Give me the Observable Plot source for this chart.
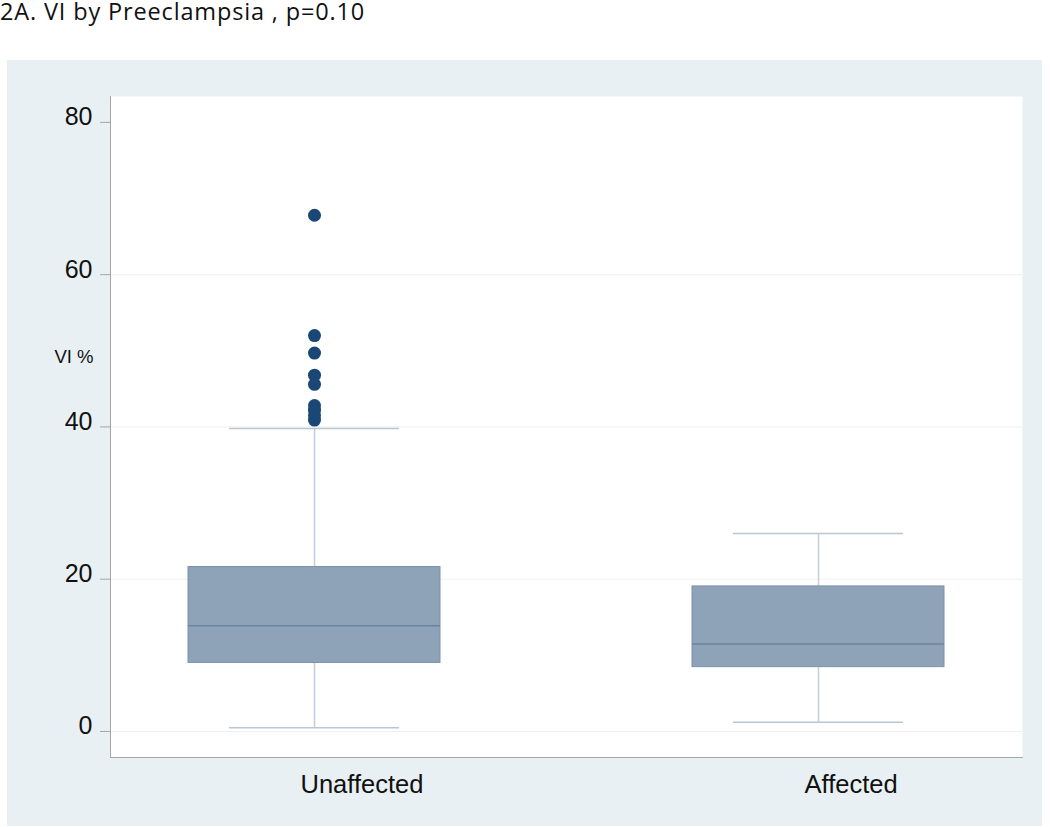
<!DOCTYPE html>
<html>
<head>
<meta charset="utf-8">
<script src="https://cdn.jsdelivr.net/npm/d3@7"></script>
<script src="https://cdn.jsdelivr.net/npm/@observablehq/plot@0.6"></script>
<style>
  html, body { margin: 0; padding: 0; background: #ffffff; }
  body { width: 1050px; height: 827px; position: relative; overflow: hidden; }
  #title { position: absolute; left: 0px; top: 1px; font-family: "Open Sans", Lato, sans-serif; font-size: 23.5px; letter-spacing: 0.85px; line-height: 20px; height: 28px; color: #111; white-space: nowrap; }
  #panel { position: absolute; left: 7px; top: 60px; width: 1035px; height: 766px; background: #e8f0f3; }
  #panel svg { display: block; }
</style>
</head>
<body>
<div id="title">2A. VI by Preeclampsia , p=0.10</div>
<div id="panel"></div>
<script>
// ---- data ----
const categories = ["Unaffected", "Affected"];
const whiskerLow = [0.5, 1.2];
const q1 = [9.0, 8.45];
const median = [13.9, 11.5];
const q3 = [21.6, 19.05];
const whiskerHigh = [39.8, 26.0];
const outlierGroup = ["Unaffected","Unaffected","Unaffected","Unaffected","Unaffected","Unaffected","Unaffected","Unaffected","Unaffected"];
const outlierValues = [67.8, 52.0, 49.7, 46.8, 45.6, 42.8, 42.2, 41.5, 40.9];
const yTicks = [0, 20, 40, 60, 80];
const gridTicks = [0, 20, 40, 60];
const yLabel = "VI %";

const boxes = categories.map((c, i) => ({
  group: c, lo: whiskerLow[i], q1: q1[i], med: median[i], q3: q3[i], hi: whiskerHigh[i]
}));
const outliers = outlierValues.map((v, i) => ({group: outlierGroup[i], value: v}));

const font = '"Liberation Sans", Arial, sans-serif';

const chart = Plot.plot({
  width: 1035,
  height: 766,
  marginLeft: 103,
  marginRight: 20,
  marginTop: 36,
  marginBottom: 69,
  style: {fontFamily: font, fontSize: "25px", color: "#111", background: "transparent"},
  x: {domain: categories, type: "band", paddingInner: 0.5, paddingOuter: 0.154, label: null},
  y: {domain: [-3.42, 83.4], label: null},
  marks: [
    Plot.frame({fill: "white", stroke: "none"}),
    Plot.ruleY(gridTicks, {stroke: "#f0f0f0", strokeWidth: 1}),
    Plot.frame({anchor: "left", stroke: "#a6a6a6"}),
    Plot.frame({anchor: "bottom", stroke: "#a6a6a6"}),
    Plot.axisY(yTicks, {tickSize: 10, tickFormat: () => "", stroke: "#a6a6a6", label: null}),
    Plot.axisY(yTicks, {tickSize: 0, tickPadding: 18, fill: "#111", label: null, fontSize: 25, dy: -5}),
    Plot.axisX({tickSize: 0, tickPadding: 17, label: null, fontSize: 25.5, fill: "#111", textAnchor: "start", dx: -14}),
    Plot.ruleX(boxes, {x: "group", y1: "lo", y2: "hi", stroke: "#c3cfdc", strokeWidth: 1.5}),
    Plot.tickY(boxes, {x: "group", y: "lo", stroke: "#b9c6d4", strokeWidth: 1.5, insetLeft: 41, insetRight: 41}),
    Plot.tickY(boxes, {x: "group", y: "hi", stroke: "#b9c6d4", strokeWidth: 1.5, insetLeft: 41, insetRight: 41}),
    Plot.barY(boxes, {x: "group", y1: "q1", y2: "q3", fill: "#8ea3b8", stroke: "#7c92aa", strokeWidth: 1}),
    Plot.tickY(boxes, {x: "group", y: "med", stroke: "#6c849e", strokeWidth: 1.5}),
    Plot.dot(outliers, {x: "group", y: "value", r: 6.5, fill: "#1a4775", stroke: "none"}),
    Plot.text([yLabel], {frameAnchor: "left", text: d => d, textAnchor: "end", dx: -17, dy: -70, fontSize: 18.5, fill: "#111"})
  ]
});
document.getElementById("panel").appendChild(chart);
</script>
</body>
</html>
